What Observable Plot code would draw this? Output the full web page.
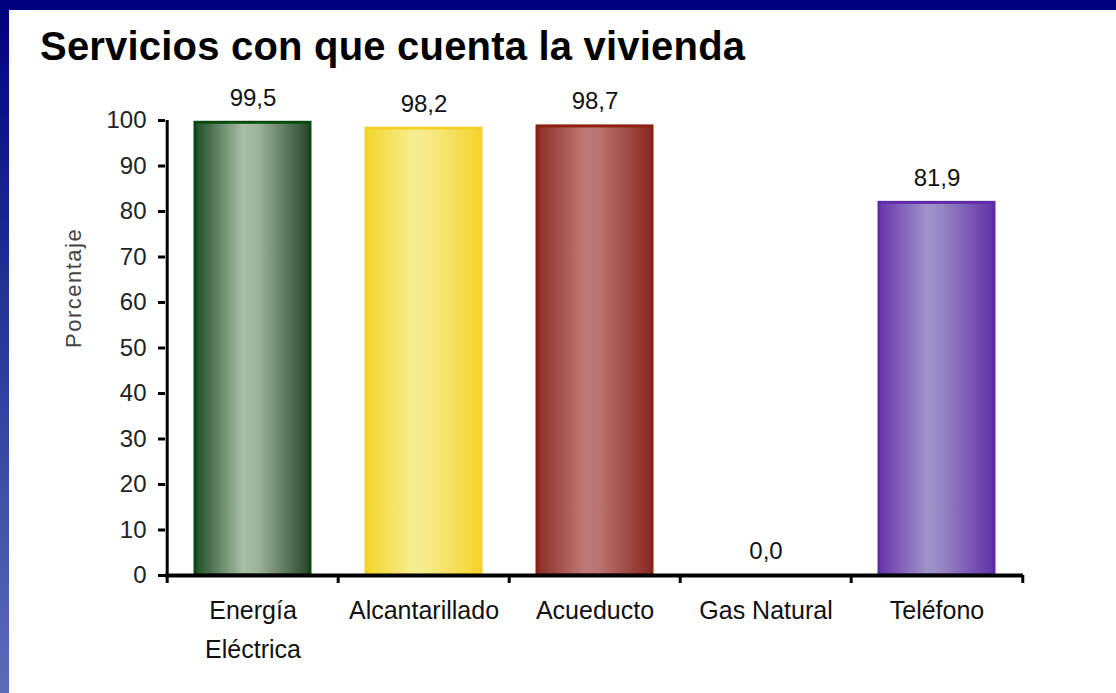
<!DOCTYPE html>
<html>
<head>
<meta charset="utf-8">
<script src="https://cdn.jsdelivr.net/npm/d3@7"></script>
<script src="https://cdn.jsdelivr.net/npm/@observablehq/plot@0.6"></script>
<style>
  html, body { margin: 0; padding: 0; background: #fff; }
  body { width: 1116px; height: 693px; position: relative; overflow: hidden; font-family: "Liberation Sans", Arial, sans-serif; }
  #topbar { position: absolute; left: 0; top: 0; width: 1116px; height: 10px; background: #00007e; z-index: 2; }
  #leftbar { position: absolute; left: 0; top: 0; width: 9px; height: 693px; background: linear-gradient(#00007e 0%, #1c2a90 35%, #3e4ea6 70%, #5d6cb8 100%); z-index: 2; }
  #title { position: absolute; left: 40px; top: 26px; height: 40px; line-height: 40px; font-size: 40px; font-weight: bold; color: #000; letter-spacing: 0.2px; white-space: nowrap; }
  #chart { position: absolute; left: 0; top: 80px; }
</style>
</head>
<body>
<div id="topbar"></div>
<div id="leftbar"></div>
<div id="title">Servicios con que cuenta la vivienda</div>
<div id="chart"></div>
<script>
// ---- data ----
const categories = ["Energía Eléctrica", "Alcantarillado", "Acueducto", "Gas Natural", "Teléfono"];
const axisLabels = ["Energía\nEléctrica", "Alcantarillado", "Acueducto", "Gas Natural", "Teléfono"];
const values = [99.5, 98.2, 98.7, 0.0, 81.9];
const valueLabels = ["99,5", "98,2", "98,7", "0,0", "81,9"];
const yTicks = [0, 10, 20, 30, 40, 50, 60, 70, 80, 90, 100];
const yLabel = "Porcentaje";

// ---- styles ----
const gradStops = [
  [["0%", "#1f4e27"], ["42%", "#a9bea7"], ["55%", "#9db39a"], ["100%", "#27452b"]],
  [["0%", "#f3d52a"], ["42%", "#f7ee92"], ["55%", "#f6ea86"], ["100%", "#f3d42a"]],
  [["0%", "#8a2c26"], ["42%", "#c07b79"], ["55%", "#b87270"], ["100%", "#88281f"]],
  [["0%", "#3050a0"], ["50%", "#90a0d0"], ["100%", "#3050a0"]],
  [["0%", "#6636aa"], ["42%", "#a094c8"], ["55%", "#9586c2"], ["100%", "#6232a8"]]
];
const strokes = ["#0a4a12", "#f2d22a", "#8c1f0e", "#3050a0", "#5e2ca6"];

const rows = categories.map((c, i) => ({
  cat: c, value: values[i], label: valueLabels[i], axis: axisLabels[i],
  fill: `url(#grad${i})`, stroke: strokes[i]
}));

const W = 1116, H = 613, mL = 165, mR = 93, mT = 40, mB = 118;
const step = (W - mL - mR) / categories.length;

const plot = Plot.plot({
  width: W, height: H,
  marginLeft: mL, marginRight: mR, marginTop: mT, marginBottom: mB,
  style: { fontFamily: "'Liberation Sans', Arial, sans-serif", fontSize: "24px", color: "#111", background: "#fff" },
  x: { domain: categories, paddingInner: 0.33, paddingOuter: 0.165, axis: null },
  y: { domain: [0, 100], axis: null },
  color: { type: "identity" },
  marks: [
    Plot.barY(rows, { x: "cat", y: "value", fill: "fill", stroke: "stroke", strokeWidth: 3 }),
    Plot.text(rows, { x: "cat", y: "value", text: "label", lineAnchor: "bottom", dy: -17, fill: "#111", fontSize: 24 }),
    Plot.axisY({ ticks: yTicks, tickSize: 7, tickPadding: 12, strokeWidth: 3, stroke: "#000", fill: "#222", label: null, fontSize: 24, tickFormat: d => String(d) }),
    Plot.text([yLabel], { frameAnchor: "left", dx: -92, rotate: -90, fontSize: 22, fill: "#444" }),
    Plot.text(rows, { x: "cat", text: "axis", frameAnchor: "bottom", lineAnchor: "top", dy: 16, lineHeight: 1.55, fill: "#111", fontSize: 25 }),
    // y axis line
    Plot.ruleX([categories[0]], { x: d => d, dx: -step / 2, y1: 0, y2: 100, strokeWidth: 3, stroke: "#000" }),
    // x axis line
    Plot.ruleY([0], { strokeWidth: 4, stroke: "#000" }),
    // x ticks at band boundaries
    Plot.ruleX(categories, { x: d => d, dx: -step / 2, y1: 0, y2: 0, insetBottom: -8, strokeWidth: 3, stroke: "#000" }),
    Plot.ruleX([categories[categories.length - 1]], { x: d => d, dx: step / 2, y1: 0, y2: 0, insetBottom: -8, strokeWidth: 3, stroke: "#000" })
  ]
});

const defs = d3.select(plot).insert("defs", ":first-child");
gradStops.forEach((stops, i) => {
  const g = defs.append("linearGradient").attr("id", `grad${i}`).attr("x1", 0).attr("x2", 1).attr("y1", 0).attr("y2", 0);
  stops.forEach(([o, c]) => g.append("stop").attr("offset", o).attr("stop-color", c));
});
d3.select(plot).selectAll("text").filter(function() { return this.textContent === yLabel; }).style("letter-spacing", "1.5px");

document.getElementById("chart").appendChild(plot);
</script>
</body>
</html>
